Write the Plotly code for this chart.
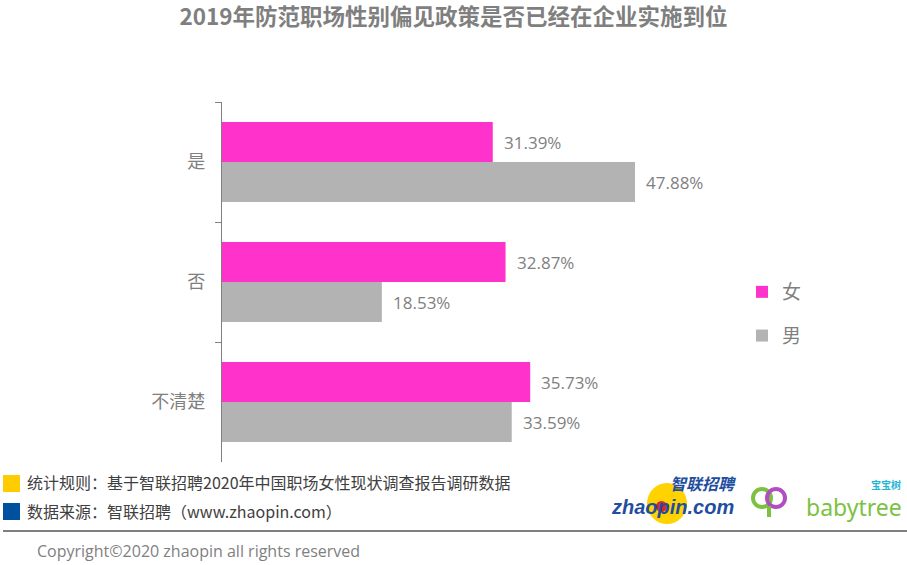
import plotly.graph_objects as go

categories = ["是", "否", "不清楚"]
women = [31.39, 32.87, 35.73]
men = [47.88, 18.53, 33.59]
series_names = ["女", "男"]
title_text = "2019年防范职场性别偏见政策是否已经在企业实施到位"
note1 = "统计规则：基于智联招聘2020年中国职场女性现状调查报告调研数据"
note2 = "数据来源：智联招聘（www.zhaopin.com）"
copyright_text = "Copyright©2020 zhaopin all rights reserved"

W, H = 907, 565
L, R, T, B = 222, 722, 102, 462
PINK = "#FF33CC"
GREY = "#B3B3B3"
TXT = "#7F7F7F"
CJK = "Microsoft YaHei, Noto Sans CJK SC, sans-serif"
NUM = "Segoe UI, Open Sans, Noto Sans, sans-serif"


def px(x):
    return (x - L) / (R - L)


def py(y):
    return (B - y) / (B - T)


fig = go.Figure()
fig.add_trace(go.Bar(y=categories, x=women, name=series_names[0], orientation="h",
                     marker=dict(color=PINK, line=dict(width=0)), legendgroup="a"))
fig.add_trace(go.Bar(y=categories, x=men, name=series_names[1], orientation="h",
                     marker=dict(color=GREY, line=dict(width=0)), legendgroup="b"))

annotations = []
for vals, shift in ((women, 20), (men, -20)):
    for c, v in zip(categories, vals):
        annotations.append(dict(x=v, y=c, xref="x", yref="y", text=f"{v:.2f}%",
                                showarrow=False, xanchor="left", yanchor="middle",
                                xshift=9, yshift=shift,
                                font=dict(family=NUM, size=17, color=TXT)))

# footer notes
annotations.append(dict(x=px(25), y=py(482), xref="paper", yref="paper", text=note1,
                        showarrow=False, xanchor="left", yanchor="middle",
                        font=dict(family=CJK, size=16, color="#404040")))
annotations.append(dict(x=px(25), y=py(511), xref="paper", yref="paper", text=note2,
                        showarrow=False, xanchor="left", yanchor="middle",
                        font=dict(family=CJK, size=16, color="#404040")))
annotations.append(dict(x=px(35), y=py(551), xref="paper", yref="paper", text=copyright_text,
                        showarrow=False, xanchor="left", yanchor="middle",
                        font=dict(family=NUM, size=16, color=TXT)))
# logos (approximated as text)
annotations.append(dict(x=px(738), y=py(483), xref="paper", yref="paper", text="<b><i>智联招聘</i></b>",
                        showarrow=False, xanchor="right", yanchor="middle",
                        font=dict(family=CJK, size=16, color="#1F4E9E")))
annotations.append(dict(x=px(672), y=py(507), xref="paper", yref="paper", text="<b><i>zhaopin.com</i></b>",
                        showarrow=False, xanchor="center", yanchor="middle",
                        font=dict(family="Liberation Sans, Arial", size=20, color="#1F4E9E")))
annotations.append(dict(x=px(904), y=py(507), xref="paper", yref="paper", text="babytree",
                        showarrow=False, xanchor="right", yanchor="middle",
                        font=dict(family="Noto Sans, Open Sans", size=23, color="#7CC242")))
annotations.append(dict(x=px(903), y=py(484), xref="paper", yref="paper", text="<b>宝宝树</b>",
                        showarrow=False, xanchor="right", yanchor="middle",
                        font=dict(family=CJK, size=10, color="#1FB5D6")))

shapes = [
    dict(type="rect", xref="paper", yref="paper", x0=px(3), x1=px(20), y0=py(475), y1=py(492),
         fillcolor="#FFCC00", line=dict(width=0), layer="above"),
    dict(type="rect", xref="paper", yref="paper", x0=px(3), x1=px(20), y0=py(503), y1=py(520),
         fillcolor="#0050A0", line=dict(width=0), layer="above"),
    dict(type="line", xref="paper", yref="paper", x0=px(3), x1=px(907), y0=py(531), y1=py(531),
         line=dict(color="#000000", width=1.2), layer="above"),
    # zhaopin logo circle
    dict(type="circle", xref="paper", yref="paper", x0=px(647), x1=px(687), y0=py(483), y1=py(524),
         fillcolor="#FFD200", line=dict(width=0), layer="below"),
    dict(type="circle", xref="paper", yref="paper", x0=px(656), x1=px(667), y0=py(501), y1=py(512),
         fillcolor="#D7282F", line=dict(width=0), layer="above"),
    # babytree logo marks
    dict(type="circle", xref="paper", yref="paper", x0=px(753), x1=px(771), y0=py(489), y1=py(507),
         fillcolor="rgba(0,0,0,0)", line=dict(color="#7CC242", width=4), layer="above"),
    dict(type="circle", xref="paper", yref="paper", x0=px(767), x1=px(785), y0=py(489), y1=py(507),
         fillcolor="rgba(0,0,0,0)", line=dict(color="#B04FBF", width=4), layer="above"),
    dict(type="line", xref="paper", yref="paper", x0=px(769), x1=px(769), y0=py(506), y1=py(517),
         line=dict(color="#7CC242", width=4), layer="above"),
]

fig.update_layout(
    width=W, height=H,
    margin=dict(l=L, r=W - R, t=T, b=H - B, pad=0),
    paper_bgcolor="white", plot_bgcolor="white",
    title=dict(text="<b>" + title_text + "</b>", x=0.5, xref="container", xanchor="center",
               y=1 - 17 / H, yref="container", yanchor="middle",
               font=dict(family=CJK, size=22.5, color=TXT)),
    barmode="group", bargap=1 / 3, bargroupgap=0,
    showlegend=True,
    legend=dict(xref="container", yref="container", x=742 / W, y=1 - 273 / H,
                xanchor="left", yanchor="top", traceorder="grouped",
                tracegroupgap=16, font=dict(family=CJK, size=19, color=TXT),
                bgcolor="rgba(0,0,0,0)", itemwidth=30),
    xaxis=dict(range=[0, (R - L) / 8.626], visible=False, fixedrange=True),
    yaxis=dict(autorange="reversed", showline=True, linecolor="#808080", linewidth=1.3,
               ticks="outside", tickson="boundaries", ticklen=6, tickwidth=1.3, tickcolor="#808080",
               tickfont=dict(family=CJK, size=18, color=TXT), ticklabelstandoff=12,
               showgrid=False, zeroline=False),
    annotations=annotations,
    shapes=shapes,
)

fig.write_html("out.html")
